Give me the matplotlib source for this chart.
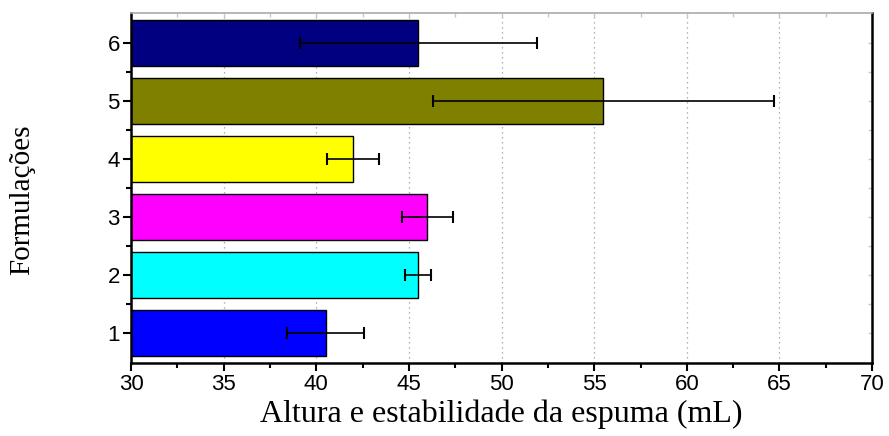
import matplotlib.pyplot as plt
import numpy as np
from matplotlib.ticker import MultipleLocator

# data
formulacoes = [1, 2, 3, 4, 5, 6]
altura = [40.5, 45.5, 46.0, 42.0, 55.5, 45.5]
erro = [2.1, 0.7, 1.4, 1.4, 9.2, 6.4]
cores = ['#0000FF', '#00FFFF', '#FF00FF', '#FFFF00', '#808000', '#000080']

fig = plt.figure(figsize=(8.89, 4.36), dpi=100)
ax = fig.add_axes([0.1474, 0.1674, 0.8336, 0.8026])

ax.set_axisbelow(True)
ax.grid(axis='x', which='major', linestyle=(0, (1, 3)), color='#999999', lw=0.9)

ax.barh(formulacoes, np.array(altura) - 30, left=30, height=0.8, color=cores,
        edgecolor='black', linewidth=1.0, zorder=2)
ax.errorbar(altura, formulacoes, xerr=erro, fmt='none', ecolor='black',
            elinewidth=1.2, capsize=4, capthick=1.5, zorder=3)

ax.set_xlim(30, 70)
ax.set_ylim(0.48, 6.52)
ax.xaxis.set_major_locator(MultipleLocator(5))
ax.xaxis.set_minor_locator(MultipleLocator(2.5))
ax.set_yticks(formulacoes)
ax.set_yticks([1.5, 2.5, 3.5, 4.5, 5.5], minor=True)

ax.tick_params(axis='both', which='major', direction='out', length=6, width=1.5,
               labelsize=16, pad=2)
ax.tick_params(axis='both', which='minor', direction='out', length=3.5, width=1.5)
for lab in ax.get_xticklabels() + ax.get_yticklabels():
    lab.set_fontfamily('Liberation Sans')

# faint inward ticks on the top and right edges
ax.tick_params(top=True, right=True, which='both')
ax.tick_params(axis='x', which='both', labeltop=False)
ax.tick_params(axis='y', which='both', labelright=False)
for t in ax.xaxis.get_major_ticks() + ax.xaxis.get_minor_ticks():
    t.tick2line.set_marker(3)
    t.tick2line.set_markeredgecolor('#c8c8c8')
    t.tick2line.set_markersize(3)
    t.tick2line.set_markeredgewidth(1)
for t in ax.yaxis.get_major_ticks() + ax.yaxis.get_minor_ticks():
    t.tick2line.set_marker(0)
    t.tick2line.set_markeredgecolor('#c8c8c8')
    t.tick2line.set_markersize(3)
    t.tick2line.set_markeredgewidth(1)

for s in ['left', 'bottom', 'right']:
    ax.spines[s].set_linewidth(1.8)
    ax.spines[s].set_color('black')
ax.spines['top'].set_linewidth(1.2)
ax.spines['top'].set_color('#aaaaaa')

ax.set_xlabel('Altura e estabilidade da espuma (mL)', fontfamily='Liberation Serif',
              fontsize=23, labelpad=3)
ax.set_ylabel('Formulações', fontfamily='Liberation Serif', fontsize=21)
ax.yaxis.set_label_coords(-0.13, 0.466)

fig.savefig('out.png', dpi=100)
